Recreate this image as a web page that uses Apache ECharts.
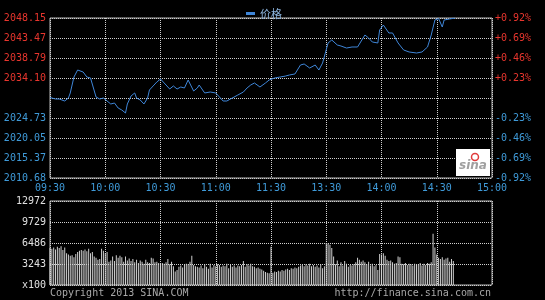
<!DOCTYPE html>
<html><head><meta charset="utf-8">
<script src="https://cdn.jsdelivr.net/npm/echarts@6/dist/echarts.min.js"></script>
<style>html,body{margin:0;padding:0;background:#000}#c{width:545px;height:300px}</style>
</head><body><div id="c"></div>
<script>
const timeLabels = ["09:30","10:00","10:30","11:00","11:30","13:30","14:00","14:30","15:00"];
const priceTicks = ["2010.68","2015.37","2020.05","2024.73","","2034.10","2038.79","2043.47","2048.15"];
const pctTicks = ["-0.92%","-0.69%","-0.46%","-0.23%","","+0.23%","+0.46%","+0.69%","+0.92%"];
const volTicks = ["x100","3243","6486","9729","12972"];
// trading minutes since 09:30 (lunch break removed)
const minutes = [0,3,5,8,10,11,13,15,16,18,20,21,22,23,25,27,29,30,33,35,37,39,41,42,44,46,47,49,51,53,54,56,58,60,62,65,67,69,71,73,75,76,78,80,81,84,87,90,92,94,96,98,100,102,105,107,109,111,114,117,119,122,125,128,130,133,134,136,138,141,144,146,148,149,151,153,156,158,161,164,167,168,171,173,175,178,179,181,184,186,189,192,195,199,202,205,207,209,211,213,214,217,220];
const prices = [2029.53,2029.18,2029.18,2028.71,2029.41,2030.59,2034.33,2035.97,2036.32,2035.50,2034.33,2034.57,2034.10,2034.10,2029.65,2029.18,2029.41,2028.95,2028.01,2028.24,2027.07,2026.60,2025.90,2028.01,2029.88,2030.59,2029.41,2028.95,2028.01,2029.41,2031.29,2032.23,2033.16,2033.86,2032.93,2031.52,2032.23,2031.52,2031.99,2031.76,2033.63,2033.86,2031.05,2031.76,2032.46,2030.59,2030.82,2030.59,2029.65,2028.71,2028.71,2029.18,2029.65,2030.12,2030.82,2031.76,2032.46,2032.93,2031.99,2032.93,2033.63,2034.10,2034.33,2034.57,2034.80,2035.04,2035.27,2037.14,2037.38,2036.44,2037.14,2035.97,2037.61,2037.85,2042.30,2043.00,2041.83,2041.59,2041.12,2041.36,2041.36,2042.06,2044.17,2043.47,2042.53,2042.30,2045.34,2046.51,2044.64,2044.64,2042.30,2040.66,2040.19,2039.95,2040.19,2041.36,2044.17,2047.68,2048.03,2046.04,2047.68,2047.92,2048.15];
const volumes = [
5700,5600,5800,5500,5900,5700,6000,5400,5800,
4900,4700,4500,
4600,4300,4800,5100,5300,
5400,5300,5500,5200,5600,4900,5100,4400,
4200,3900,4000,
5600,5300,4900,5100,
3600,3800,4400,3700,4600,
4200,4500,4300,3600,4400,3800,4100,
3700,4000,3500,3900,3400,3800,3600,3300,3900,3500,3400,4200,4100,3500,3600,3400,3200,
3400,3300,3500,4000,3200,3600,2900,2100,2300,2800,
3000,2700,3100,3300,3200,3600,4500,3100,2900,2800,
2700,3000,2600,3200,2800,2500,3300,2700,3100,2900,
3200,3100,2800,3000,2900,3300,2600,3100,2800,3000,
2700,3000,2900,3100,3700,2800,3200,3000,3300,2900,
2800,2600,2700,2500,2400,2200,2000,1900,1800,
5900,
1900,2100,2000,2200,2100,2300,2200,2400,2500,2300,2600,2500,2700,2600,2800,
3000,3100,2900,3200,3000,3300,2900,3100,2800,3000,2700,3200,2600,2900,
6500,6400,6200,5700,
4400,3200,3800,2900,3500,3000,3700,3300,2800,3100,3000,3200,3500,4200,3900,3600,3800,
3500,3200,3600,3000,3300,2900,3100,2300,
4800,4700,4900,4500,
3900,3700,3800,3500,
3300,3400,4400,4300,
3300,3200,3400,3100,3300,3200,3000,3300,3100,3200,3400,3000,3300,3100,3400,3300,
3500,7900,5800,4700,
4200,4000,4300,3900,4100,4200,3600,4000,3700];

const FONT = 'DejaVu Sans Mono';
const RED = '#e8362e', BLUE = '#3f9ad8';
const dotted = {show:true, lineStyle:{color:'#d0d0d0', type:[1,1], width:1}};
const priceMin = parseFloat(priceTicks[0]), priceMax = parseFloat(priceTicks[priceTicks.length-1]);
const volMax = parseFloat(volTicks[volTicks.length-1]), volStep = parseFloat(volTicks[1]);
const half = (priceTicks.length-1)/2;

const chart = echarts.init(document.getElementById('c'), null, {renderer:'canvas'});
chart.setOption({
  backgroundColor:'#000',
  animation:false,
  legend:{left:241, top:3, itemWidth:9, itemHeight:3, itemGap:4, icon:'rect',
    textStyle:{color:'#8cb4dc', fontSize:11, fontFamily:'Noto Sans CJK SC'},
    data:[{name:'价格', itemStyle:{color:'#3f86d8'}}]},
  grid:[
    {left:50, top:18, width:442, height:160, show:true, borderColor:'#b8b8b8', borderWidth:1, backgroundColor:'transparent'},
    {left:50, top:201, width:442, height:84, show:true, borderColor:'#b8b8b8', borderWidth:1, backgroundColor:'transparent'}
  ],
  xAxis:[
    {type:'value', gridIndex:0, min:0, max:240, interval:30,
     axisLine:{show:false}, axisTick:{show:false}, splitLine:dotted,
     axisLabel:{color:BLUE, fontFamily:FONT, fontSize:10, margin:5,
       formatter:v=>timeLabels[Math.round(v/30)]}},
    {type:'value', gridIndex:1, min:0, max:240, interval:30,
     axisLine:{show:false}, axisTick:{show:false}, splitLine:dotted, axisLabel:{show:false}}
  ],
  yAxis:[
    {type:'value', gridIndex:0, position:'left', min:-half, max:half, interval:1,
     axisLine:{show:false}, axisTick:{show:false}, splitLine:dotted,
     axisLabel:{fontFamily:FONT, fontSize:10, margin:4,
       formatter:v=>priceTicks[Math.round(v+half)],
       color:v=>(v>0?RED:BLUE)}},
    {type:'value', gridIndex:0, position:'right', min:-half, max:half, interval:1,
     axisLine:{show:false}, axisTick:{show:false}, splitLine:{show:false},
     axisLabel:{fontFamily:FONT, fontSize:10, margin:3,
       formatter:v=>pctTicks[Math.round(v+half)],
       color:v=>(v>0?RED:BLUE)}},
    {type:'value', gridIndex:0, position:'left', min:priceMin, max:priceMax, show:false, splitLine:{show:false}},
    {type:'value', gridIndex:1, position:'left', min:0, max:volMax, interval:volStep,
     axisLine:{show:false}, axisTick:{show:false}, splitLine:dotted,
     axisLabel:{color:'#e0e0e0', fontFamily:FONT, fontSize:10, margin:4,
       formatter:v=>volTicks[Math.round(v/volStep)]}}
  ],
  series:[
    {name:'价格', type:'line', xAxisIndex:0, yAxisIndex:2, showSymbol:false, symbol:'none',
     lineStyle:{color:'#3f86d8', width:1}, itemStyle:{color:'#3f86d8'},
     data:minutes.map((m,i)=>[m, prices[i]]), z:3},
    {name:'成交量', type:'bar', xAxisIndex:1, yAxisIndex:3, barWidth:1,
     itemStyle:{color:'#d0d0d0'}, data:volumes.map((v,i)=>[i, v])}
  ],
  graphic:[
    {type:'rect', left:456, top:149, shape:{width:34, height:27}, style:{fill:'#fff'}, z:10},
    {type:'circle', left:469, top:151, shape:{r:3.5}, style:{fill:'none', stroke:'#e03a3a', lineWidth:1.5}, z:11},
    {type:'text', left:459, top:160, style:{text:'sina', fill:'#a0a0a0', font:'italic bold 12px "DejaVu Sans"'}, z:11},
    {type:'text', left:50, top:288, style:{text:'Copyright 2013 SINA.COM', fill:'#a8a8a8', font:'10px "DejaVu Sans Mono"'}},
    {type:'text', right:54, top:288, style:{text:'http://finance.sina.com.cn', fill:'#a8a8a8', font:'10px "DejaVu Sans Mono"'}}
  ]
});
</script></body></html>
